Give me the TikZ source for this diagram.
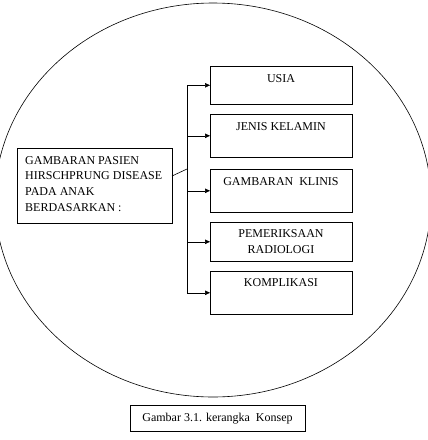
\documentclass[tikz,border=0pt]{standalone}
\usepackage{fontspec}
\setmainfont{Liberation Serif}
\usetikzlibrary{arrows.meta}
\begin{document}
\begin{tikzpicture}[x=1pt,y=-1pt,
  box/.style={draw, line width=0.6pt, inner sep=0pt, anchor=north west},
  lbl/.style={anchor=base, inner sep=0pt, font=\fontsize{12}{14}\selectfont},
  arr/.style={-{Triangle[length=5pt,width=4.5pt]}, line width=0.6pt},
  ln/.style={line width=0.6pt}]
\useasboundingbox (0,0) rectangle (428,440);
\draw[ln] (213,200) ellipse [x radius=218, y radius=197];
% left box
\node[box, minimum width=155pt, minimum height=75pt] (main) at (17,148) {};
\node[anchor=base west, inner sep=0pt, align=left, font=\fontsize{12}{15.6}\selectfont] (maintxt) at (25,211)
  {GAMBARAN PASIEN\\HIRSCHPRUNG DISEASE\\PADA ANAK\\BERDASARKAN :};
% right boxes
\node[box, minimum width=142pt, minimum height=38pt] (usia) at (210,66) {};
\node[box, minimum width=142pt, minimum height=43pt] (jenis) at (210,114) {};
\node[box, minimum width=142pt, minimum height=43pt] (klinis) at (210,169) {};
\node[box, minimum width=142pt, minimum height=39pt] (radio) at (210,222) {};
\node[box, minimum width=142pt, minimum height=43pt] (kompl) at (210,271) {};
\node[lbl] (t1) at (281,82) {USIA};
\node[lbl] (t2) at (281,130) {JENIS KELAMIN};
\node[lbl] (t3) at (281,185) {GAMBARAN\ \ KLINIS};
\node[lbl] (t4a) at (281,237.3) {PEMERIKSAAN};
\node[lbl] (t4b) at (281,253.3) {RADIOLOGI};
\node[lbl] (t5) at (281,286.7) {KOMPLIKASI};
% connectors
\coordinate (spine) at (187,0);
\coordinate (join) at (187,169);
\coordinate (mainout) at (172,176);
\draw[ln] (spine |- usia.west) -- (spine |- kompl.west);
\draw[ln] (mainout) -- (join);
\foreach \b in {usia,jenis,klinis,radio,kompl}
  \draw[arr] (spine |- \b.west) -- (\b.west);
% caption
\node[box, anchor=center, minimum width=175pt, minimum height=26pt] (cap) at (217.5,418) {};
\node[lbl] (captxt) at (217.5,421) {Gambar 3.1. kerangka\ \ Konsep};
\end{tikzpicture}
\end{document}
